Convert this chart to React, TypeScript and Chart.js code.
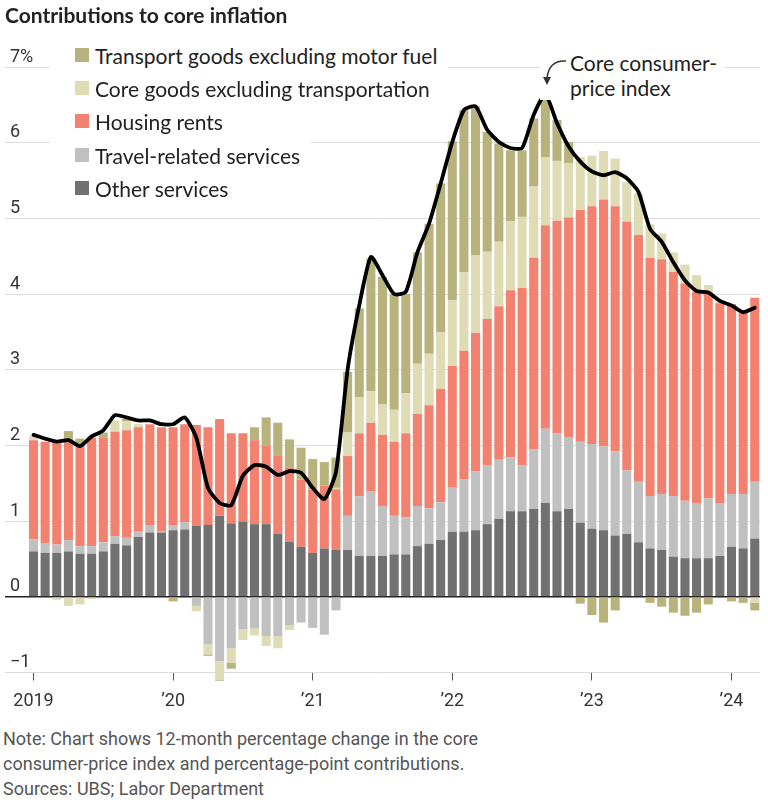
import React, { useEffect, useRef } from 'react';
import { Chart, registerables } from 'chart.js';

Chart.register(...registerables);

// ---- Data (Jan 2019 – Mar 2024, monthly) ----
const years = ['2019', '2020', '2021', '2022', '2023', '2024'];
const monthNames = ['Jan', 'Feb', 'Mar', 'Apr', 'May', 'Jun', 'Jul', 'Aug', 'Sep', 'Oct', 'Nov', 'Dec'];
const categories: string[] = [];
years.forEach((y) => monthNames.forEach((m) => { if (categories.length < 63) categories.push(`${m} ${y}`); }));

const otherServices = [
  0.60, 0.58, 0.58, 0.60, 0.57, 0.57, 0.60, 0.70, 0.68, 0.79, 0.85, 0.85,
  0.88, 0.89, 0.94, 0.95, 1.07, 0.97, 0.99, 0.96, 0.96, 0.83, 0.73, 0.66,
  0.58, 0.64, 0.62, 0.62, 0.54, 0.54, 0.54, 0.56, 0.56, 0.67, 0.70, 0.75,
  0.86, 0.86, 0.88, 0.96, 1.03, 1.13, 1.13, 1.16, 1.24, 1.13, 1.16, 0.98,
  0.90, 0.88, 0.81, 0.83, 0.72, 0.64, 0.62, 0.53, 0.51, 0.51, 0.51, 0.54,
  0.66, 0.64, 0.77,
];
const travelServices = [
  0.16, 0.13, 0.11, 0.15, 0.10, 0.10, 0.12, 0.10, 0.10, 0.07, 0.09, 0.02,
  0.06, 0.10, -0.12, -0.63, -0.85, -0.68, -0.43, -0.42, -0.52, -0.52, -0.38, -0.34,
  -0.41, -0.50, -0.18, 0.45, 0.79, 0.85, 0.66, 0.51, 0.49, 0.53, 0.47, 0.50,
  0.58, 0.69, 0.78, 0.78, 0.78, 0.71, 0.61, 0.79, 0.98, 1.03, 0.95, 1.07,
  1.12, 1.11, 1.11, 0.84, 0.80, 0.69, 0.74, 0.80, 0.76, 0.73, 0.79, 0.70,
  0.70, 0.72, 0.75,
];
const housingRents = [
  1.31, 1.34, 1.36, 1.31, 1.33, 1.43, 1.38, 1.38, 1.42, 1.38, 1.34, 1.37,
  1.30, 1.29, 1.33, 1.29, 1.28, 1.19, 1.17, 1.11, 1.04, 1.04, 0.98, 0.89,
  0.84, 0.83, 0.80, 0.79, 0.83, 0.91, 0.94, 0.98, 1.11, 1.22, 1.36, 1.50,
  1.61, 1.70, 1.83, 1.93, 2.03, 2.21, 2.34, 2.53, 2.69, 2.81, 2.90, 3.06,
  3.14, 3.26, 3.24, 3.29, 3.26, 3.15, 3.10, 2.96, 2.87, 2.79, 2.70, 2.64,
  2.51, 2.42, 2.43,
];
const coreGoods = [
  0.06, 0, -0.04, -0.12, -0.10, -0.03, 0, 0.15, 0.12, 0.04, 0, 0,
  0, 0, -0.07, -0.13, -0.25, -0.19, -0.14, -0.09, -0.13, -0.16, -0.06, 0,
  0, 0, 0.02, 0.31, 0.48, 0.42, 0.40, 0.42, 0.53, 0.66, 0.68, 0.75,
  0.87, 1.04, 1.02, 0.89, 0.85, 0.91, 0.94, 0.94, 0.90, 0.79, 0.72, 0.70,
  0.67, 0.64, 0.63, 0.52, 0.55, 0.44, 0.34, 0.26, 0.25, 0.22, 0.12, 0.02,
  0, 0, -0.08,
];
const transportGoods = [
  0, 0, 0, 0.13, 0.09, 0, 0.07, 0, 0.03, 0, 0, 0,
  -0.06, 0, 0, -0.02, -0.01, -0.08, 0, 0.17, 0.37, 0.43, 0.37, 0.42,
  0.40, 0.31, 0.40, 0.80, 1.17, 1.75, 1.69, 1.53, 1.31, 1.47, 1.72, 1.96,
  2.10, 2.14, 1.97, 1.58, 1.30, 0.94, 0.88, 0.90, 0.78, 0.54, 0.28, -0.09,
  -0.24, -0.34, -0.18, 0, 0, -0.08, -0.13, -0.21, -0.25, -0.21, -0.10, 0,
  -0.06, -0.08, -0.10,
];
const coreCPI = [
  2.14, 2.09, 2.05, 2.07, 1.99, 2.12, 2.20, 2.40, 2.37, 2.33, 2.33, 2.28,
  2.28, 2.37, 2.10, 1.44, 1.24, 1.21, 1.60, 1.74, 1.72, 1.61, 1.66, 1.64,
  1.44, 1.29, 1.65, 3.00, 3.85, 4.49, 4.25, 4.00, 4.03, 4.55, 4.93, 5.46,
  6.01, 6.43, 6.48, 6.17, 6.01, 5.93, 5.93, 6.37, 6.64, 6.26, 5.95, 5.75,
  5.62, 5.57, 5.61, 5.53, 5.35, 4.86, 4.69, 4.42, 4.18, 4.04, 4.02, 3.91,
  3.85, 3.76, 3.82,
];

const xTickIndex = [0, 12, 24, 36, 48, 60];
const xTickLabels = ['2019', '\u201920', '\u201921', '\u201922', '\u201923', '\u201924'];
const yTickValues = [-1, 0, 1, 2, 3, 4, 5, 6, 7];
const yTickLabels = ['\u22121', '0', '1', '2', '3', '4', '5', '6', '7%'];

const seriesNames = [
  'Transport goods excluding motor fuel',
  'Core goods excluding transportation',
  'Housing rents',
  'Travel-related services',
  'Other services',
];
const seriesColors = ['#b8b27c', '#dedbb5', '#f2826f', '#c0c0c0', '#717171'];

const NARROW = '"Liberation Sans Narrow", "Roboto", sans-serif';
const SANS = 'Lato, "Noto Sans", sans-serif';

function ChartCanvas() {
  const ref = useRef<HTMLCanvasElement | null>(null);
  useEffect(() => {
    if (!ref.current) return;
    const toXY = (arr: number[]) => arr.map((y, i) => ({ x: i, y }));
    const bar = (label: string, arr: number[], color: string) => ({
      type: 'bar' as const,
      label,
      data: toXY(arr),
      backgroundColor: color,
      borderWidth: 0,
      barPercentage: 0.78,
      categoryPercentage: 1,
      stack: 'parts',
      order: 1,
      clip: false as any,
    });
    const chart = new Chart(ref.current, {
      type: 'bar',
      data: {
        datasets: [
          bar(seriesNames[4], otherServices, seriesColors[4]),
          bar(seriesNames[3], travelServices, seriesColors[3]),
          bar(seriesNames[2], housingRents, seriesColors[2]),
          bar(seriesNames[1], coreGoods, seriesColors[1]),
          bar(seriesNames[0], transportGoods, seriesColors[0]),
          {
            type: 'line' as const,
            label: 'Core consumer-price index',
            data: toXY(coreCPI),
            borderColor: '#000',
            borderWidth: 3.8,
            pointRadius: 0,
            tension: 0.2,
            fill: false,
            stack: 'cpi',
            order: 0,
            borderJoinStyle: 'round',
            borderCapStyle: 'round',
          } as any,
        ],
      },
      options: {
        animation: false,
        responsive: false,
        devicePixelRatio: 1,
        layout: { padding: { top: 67, left: 5, right: 8, bottom: 0 } },
        plugins: { legend: { display: false }, tooltip: { enabled: false } },
        scales: {
          x: {
            type: 'linear',
            min: -2.45,
            max: 62.45,
            bounds: 'data',
            offset: false,
            stacked: true,
            afterBuildTicks: (scale: any) => {
              scale.ticks = xTickIndex.map((v) => ({ value: v }));
            },
            afterFit: (scale: any) => {
              scale.height = 39.5;
              scale.paddingLeft = 0;
              scale.paddingRight = 0;
            },
            ticks: {
              autoSkip: false,
              maxRotation: 0,
              padding: 10,
              color: '#333',
              font: { family: NARROW, size: 18 },
              callback: (v: any) => xTickLabels[xTickIndex.indexOf(Number(v))] ?? '',
            },
            grid: {
              display: true, offset: false, drawOnChartArea: false, drawTicks: true,
              tickLength: 8, color: '#555',
            },
            border: { display: false },
          },
          y: {
            type: 'linear',
            min: -1,
            max: 7,
            stacked: true,
            afterBuildTicks: (scale: any) => {
              scale.ticks = yTickValues.map((v) => ({ value: v }));
            },
            afterFit: (scale: any) => {
              scale.width = 0;
            },
            ticks: {
              mirror: true,
              padding: 5,
              labelOffset: -10,
              color: '#333',
              font: { family: NARROW, size: 18 },
              callback: (v: any) => yTickLabels[yTickValues.indexOf(Number(v))] ?? '',
            },
            grid: {
              drawTicks: false,
              color: (ctx: any) => (ctx.tick && ctx.tick.value === 0 ? '#222' : '#dcdcdc'),
              lineWidth: (ctx: any) => (ctx.tick && ctx.tick.value === 0 ? 1.5 : 1),
            },
            border: { display: false },
          },
        },
      } as any,
    });
    return () => chart.destroy();
  }, []);
  return (
    <canvas
      ref={ref}
      width={768}
      height={712}
      style={{ position: 'absolute', left: 0, top: 0, width: 768, height: 712 }}
    />
  );
}

export default function App() {
  useEffect(() => {
    document.body.style.margin = '0';
  }, []);
  const legendTops = [38, 71, 104, 138, 171];
  return (
    <div style={{ position: 'relative', width: 768, height: 800, background: '#fff', overflow: 'hidden' }}>
      <ChartCanvas />
      <div
        style={{
          position: 'absolute', left: 5, top: 1, fontFamily: SANS, fontWeight: 700,
          fontSize: 21, lineHeight: '28px', color: '#222', whiteSpace: 'nowrap',
        }}
      >
        Contributions to core inflation
      </div>
      {seriesNames.map((name, i) => (
        <div
          key={name}
          style={{
            position: 'absolute', left: 50, top: legendTops[i], height: 34, paddingLeft: 25,
            paddingRight: 11, background: '#fff', display: 'flex', alignItems: 'center',
            fontFamily: SANS, fontSize: 21, color: '#222', whiteSpace: 'nowrap',
          }}
        >
          <span style={{ display: 'inline-block', width: 14, height: 14, background: seriesColors[i], marginRight: 6 }} />
          <span>{name}</span>
        </div>
      ))}
      <div
        style={{
          position: 'absolute', left: 540, top: 50, width: 185, height: 50, background: '#fff',
        }}
      />
      <div
        style={{
          position: 'absolute', left: 570, top: 50, fontFamily: SANS, fontSize: 21,
          lineHeight: '25px', color: '#222', whiteSpace: 'nowrap',
        }}
      >
        Core consumer-
        <br />
        price index
      </div>
      <svg width={768} height={120} style={{ position: 'absolute', left: 0, top: 0 }}>
        <path d="M 566 61 Q 549 60 547 78" fill="none" stroke="#333" strokeWidth={1.5} />
        <polygon points="543,77 551,77 547,85" fill="#333" />
      </svg>
      <div
        style={{
          position: 'absolute', left: 3, top: 726, fontFamily: NARROW, fontSize: 18,
          lineHeight: '25px', color: '#555', whiteSpace: 'nowrap',
        }}
      >
        Note: Chart shows 12-month percentage change in the core
        <br />
        consumer-price index and percentage-point contributions.
        <br />
        Sources: UBS; Labor Department
      </div>
    </div>
  );
}
